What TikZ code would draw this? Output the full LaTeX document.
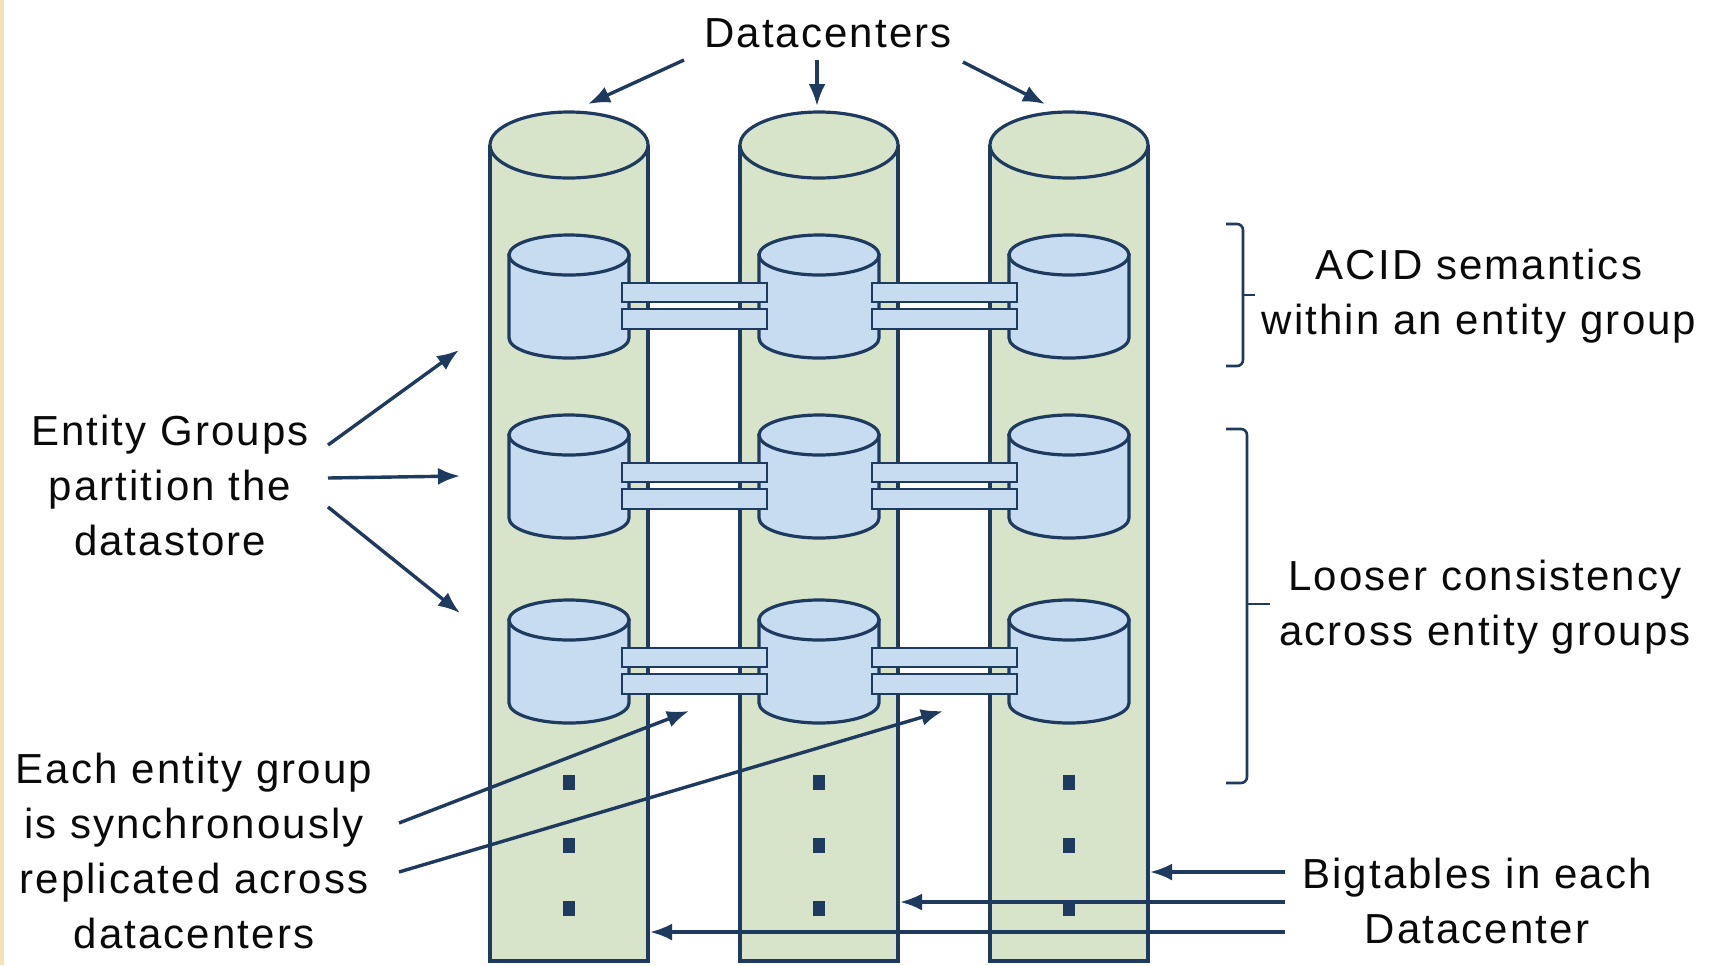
\documentclass[tikz,border=0pt]{standalone}
\usepackage{fontspec}
\setmainfont[LetterSpace=5]{Liberation Sans}
\usetikzlibrary{arrows.meta}

\definecolor{navy}{RGB}{30,58,95}
\definecolor{dcgreen}{RGB}{216,228,201}
\definecolor{egblue}{RGB}{199,219,241}
\definecolor{edgetan}{RGB}{246,225,182}
\definecolor{ink}{RGB}{10,10,10}

\begin{document}
\begin{tikzpicture}[x=0.5pt,y=-0.5pt,
  outline/.style={draw=navy,line width=1.6pt},
  barline/.style={draw=navy,line width=1.4pt,fill=egblue},
  arr/.style={draw=navy,line width=1.7pt,-{Latex[length=11pt,width=8.5pt]}},
  brace/.style={draw=navy,line width=1.3pt,rounded corners=3pt},
  lbl/.style={font=\fontsize{21}{27.5}\selectfont,align=center,inner sep=0pt,text=ink},
  dotbox/.style={fill=navy,minimum width=6pt,minimum height=7.5pt,inner sep=0pt},
]
% canvas and left edge strip
\useasboundingbox (0,0) rectangle (1715,965);
\fill[white] (0,0) rectangle (1715,965);
\fill[edgetan] (0,0) rectangle (4,965);

% datacenter columns (tall cylinders)
\foreach \cx in {569,819,1069}{
  \fill[dcgreen] (\cx-79,145) rectangle (\cx+79,961);
  \draw[outline] (\cx-79,145) -- (\cx-79,961) -- (\cx+79,961) -- (\cx+79,145);
  \filldraw[outline,fill=dcgreen] (\cx,145) ellipse[x radius=79,y radius=33];
}

% entity group replicas (small cylinders)
\foreach \ty in {255,435,620}{
  \foreach \cx in {569,819,1069}{
    \filldraw[outline,fill=egblue] (\cx-60,\ty) -- (\cx-60,\ty+83)
      arc[start angle=180,end angle=0,x radius=60,y radius=20] -- (\cx+60,\ty) -- cycle;
    \filldraw[outline,fill=egblue] (\cx,\ty) ellipse[x radius=60,y radius=20];
  }
  % synchronous replication links
  \foreach \xa/\xb in {622/767,872/1017}{
    \filldraw[barline] (\xa,\ty+28) rectangle (\xb,\ty+47);
    \filldraw[barline] (\xa,\ty+54) rectangle (\xb,\ty+74);
  }
}

% continuation dots
\foreach \cx/\c in {569/a,819/b,1069/c}{
  \foreach \dy/\i in {782/1,845/2,908/3}{
    \node[dotbox] (dot\c\i) at (\cx,\dy) {};
  }
}

% labels
\node[lbl] (dc) at (828,33) {Datacenters};
\node[lbl] (eg) at (170,485) {Entity Groups\\partition the\\datastore};
\node[lbl] (rep) at (194,851) {Each entity group\\is synchronously\\replicated across\\datacenters};
\node[lbl] (acid) at (1479,296) {ACID semantics\\within an entity group};
\node[lbl] (loose) at (1485,607) {Looser consistency\\across entity groups};
\node[lbl] (bt) at (1477,901) {Bigtables in each\\Datacenter};

% connector end points
\coordinate (dcA) at (684,60);   \coordinate (colA) at (588,104);
\coordinate (dcB) at (817,60);   \coordinate (colB) at (817,106);
\coordinate (dcC) at (963,62);   \coordinate (colC) at (1045,104);
\coordinate (egA) at (328,445);  \coordinate (rowA) at (459,350);
\coordinate (egB) at (328,478);  \coordinate (rowB) at (460,476);
\coordinate (egC) at (328,507);  \coordinate (rowC) at (460,613);
\coordinate (repA) at (399,823); \coordinate (linkA) at (689,711);
\coordinate (repB) at (399,872); \coordinate (linkB) at (943,711);
\coordinate (btA) at (1285,872); \coordinate (tabC) at (1150,872);
\coordinate (btB) at (1285,902); \coordinate (tabB) at (900,902);
\coordinate (btC) at (1285,932); \coordinate (tabA) at (650,932);

\draw[arr] (dcA) -- (colA);
\draw[arr] (dcB) -- (colB);
\draw[arr] (dcC) -- (colC);
\draw[arr] (egA) -- (rowA);
\draw[arr] (egB) -- (rowB);
\draw[arr] (egC) -- (rowC);
\draw[arr] (repA) -- (linkA);
\draw[arr] (repB) -- (linkB);
\draw[arr] (btA) -- (tabC);
\draw[arr] (btB) -- (tabB);
\draw[arr] (btC) -- (tabA);

% brackets
\draw[brace] (1226,224) -- (1243,224) -- (1243,366) -- (1226,366);
\draw[navy,line width=1.3pt] (1243,295) -- (1255,295);
\draw[brace] (1226,429) -- (1247,429) -- (1247,783) -- (1226,783);
\draw[navy,line width=1.3pt] (1247,604) -- (1270,604);
\end{tikzpicture}
\end{document}
